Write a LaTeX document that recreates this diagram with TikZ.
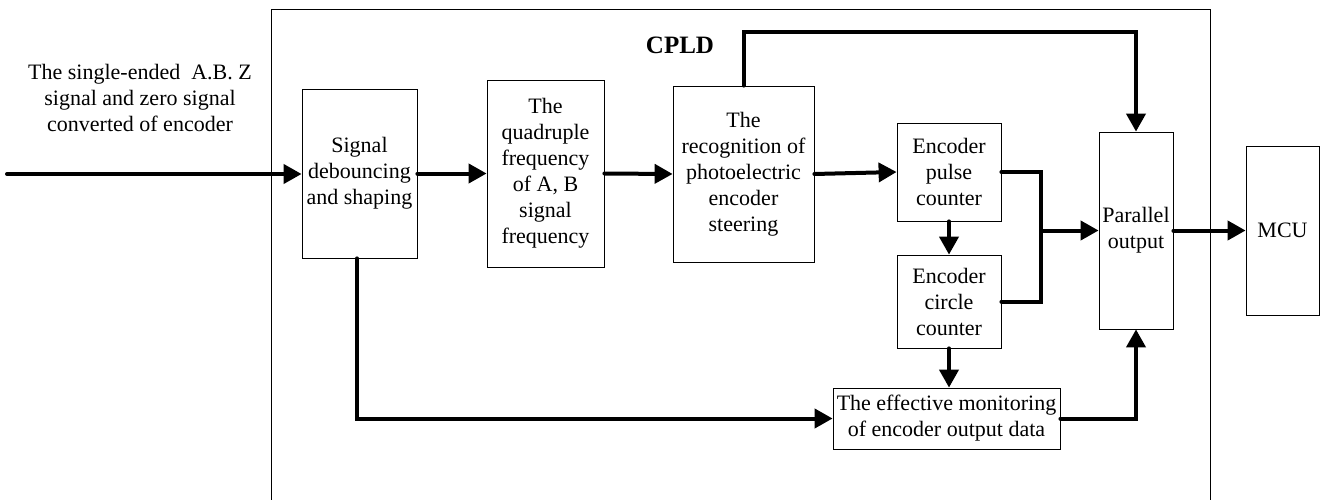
\documentclass[tikz,border=0pt]{standalone}
\usepackage{fontspec}
\setmainfont{Liberation Serif}
\usetikzlibrary{arrows.meta}

\begin{document}
\begin{tikzpicture}[x=1pt,y=-1pt,
        txt/.style={font=\fontsize{22pt}{26pt}\selectfont,align=center,inner sep=0pt},
        block/.style={txt,draw,line width=0.8pt},
        link/.style={line width=4pt,line cap=round},
        flow/.style={link,-{Triangle[length=18pt,width=19pt]}}]
        \useasboundingbox (0,0) rectangle (1327,500);

        % CPLD
        \draw[line width=0.8pt] (271,500) -- (271,9) -- (1210,9) -- (1210,500);
        \node[txt,font=\fontsize{25pt}{28pt}\selectfont\bfseries] (cpld) at (680,45) {CPLD};

        % Eingang
        \node[txt] (input) at (140,98) {The single-ended\ \ A.B. Z\\signal and zero signal\\converted of encoder};
        \coordinate (src) at (7,174);

        % Bloecke
        \node[block,minimum width=115pt,minimum height=169pt] (debounce) at (359.5,173.5) {Signal\\debouncing\\and shaping};
        \node[block,minimum width=117pt,minimum height=187pt] (quad) at (545.5,173.5) {The\\quadruple\\frequency\\of A, B\\signal\\frequency};
        \node[block,minimum width=141pt,minimum height=176pt] (recog) at (743.5,174) {The\\recognition of\\photoelectric\\encoder\\steering};
        \node[block,minimum width=104pt,minimum height=98pt] (pulse) at (949,172) {Encoder\\pulse\\counter};
        \node[block,minimum width=104pt,minimum height=93pt] (circle) at (949,301.5) {Encoder\\circle\\counter};
        \node[block,minimum width=227pt,minimum height=61pt] (monitor) at (946.5,418.5) {The effective monitoring\\of encoder output data};
        \node[block,minimum width=74pt,minimum height=197pt] (parallel) at (1136,230.5) {Parallel\\output};
        \node[block,minimum width=73pt,minimum height=169pt] (mcu) at (1282.5,230.5) {MCU};

        % Verbindungen
        \coordinate (merge) at (1041,230.5);
        \draw[flow] (src) -- (src -| debounce.west);
        \draw[flow] (debounce.east) -- (quad.west);
        \draw[flow] (quad.east) -- (recog.west);
        \draw[flow] (recog.east) -- (pulse.west);
        \draw[flow] (recog.north) -- ++(0,-54) -| (parallel.north);
        \draw[link] (pulse.east) -| (merge);
        \draw[link] (circle.east) -| (merge);
        \draw[flow] (merge) -- (parallel.west);
        \draw[flow] (pulse.south) -- (circle.north);
        \draw[flow] (circle.south) -- (circle.south |- monitor.north);
        \draw[flow] (debounce.south -| 357,0) |- (monitor.west);
        \draw[flow] (monitor.east) -| (parallel.south);
        \draw[flow] (parallel.east) -- (mcu.west);
\end{tikzpicture}
\end{document}
